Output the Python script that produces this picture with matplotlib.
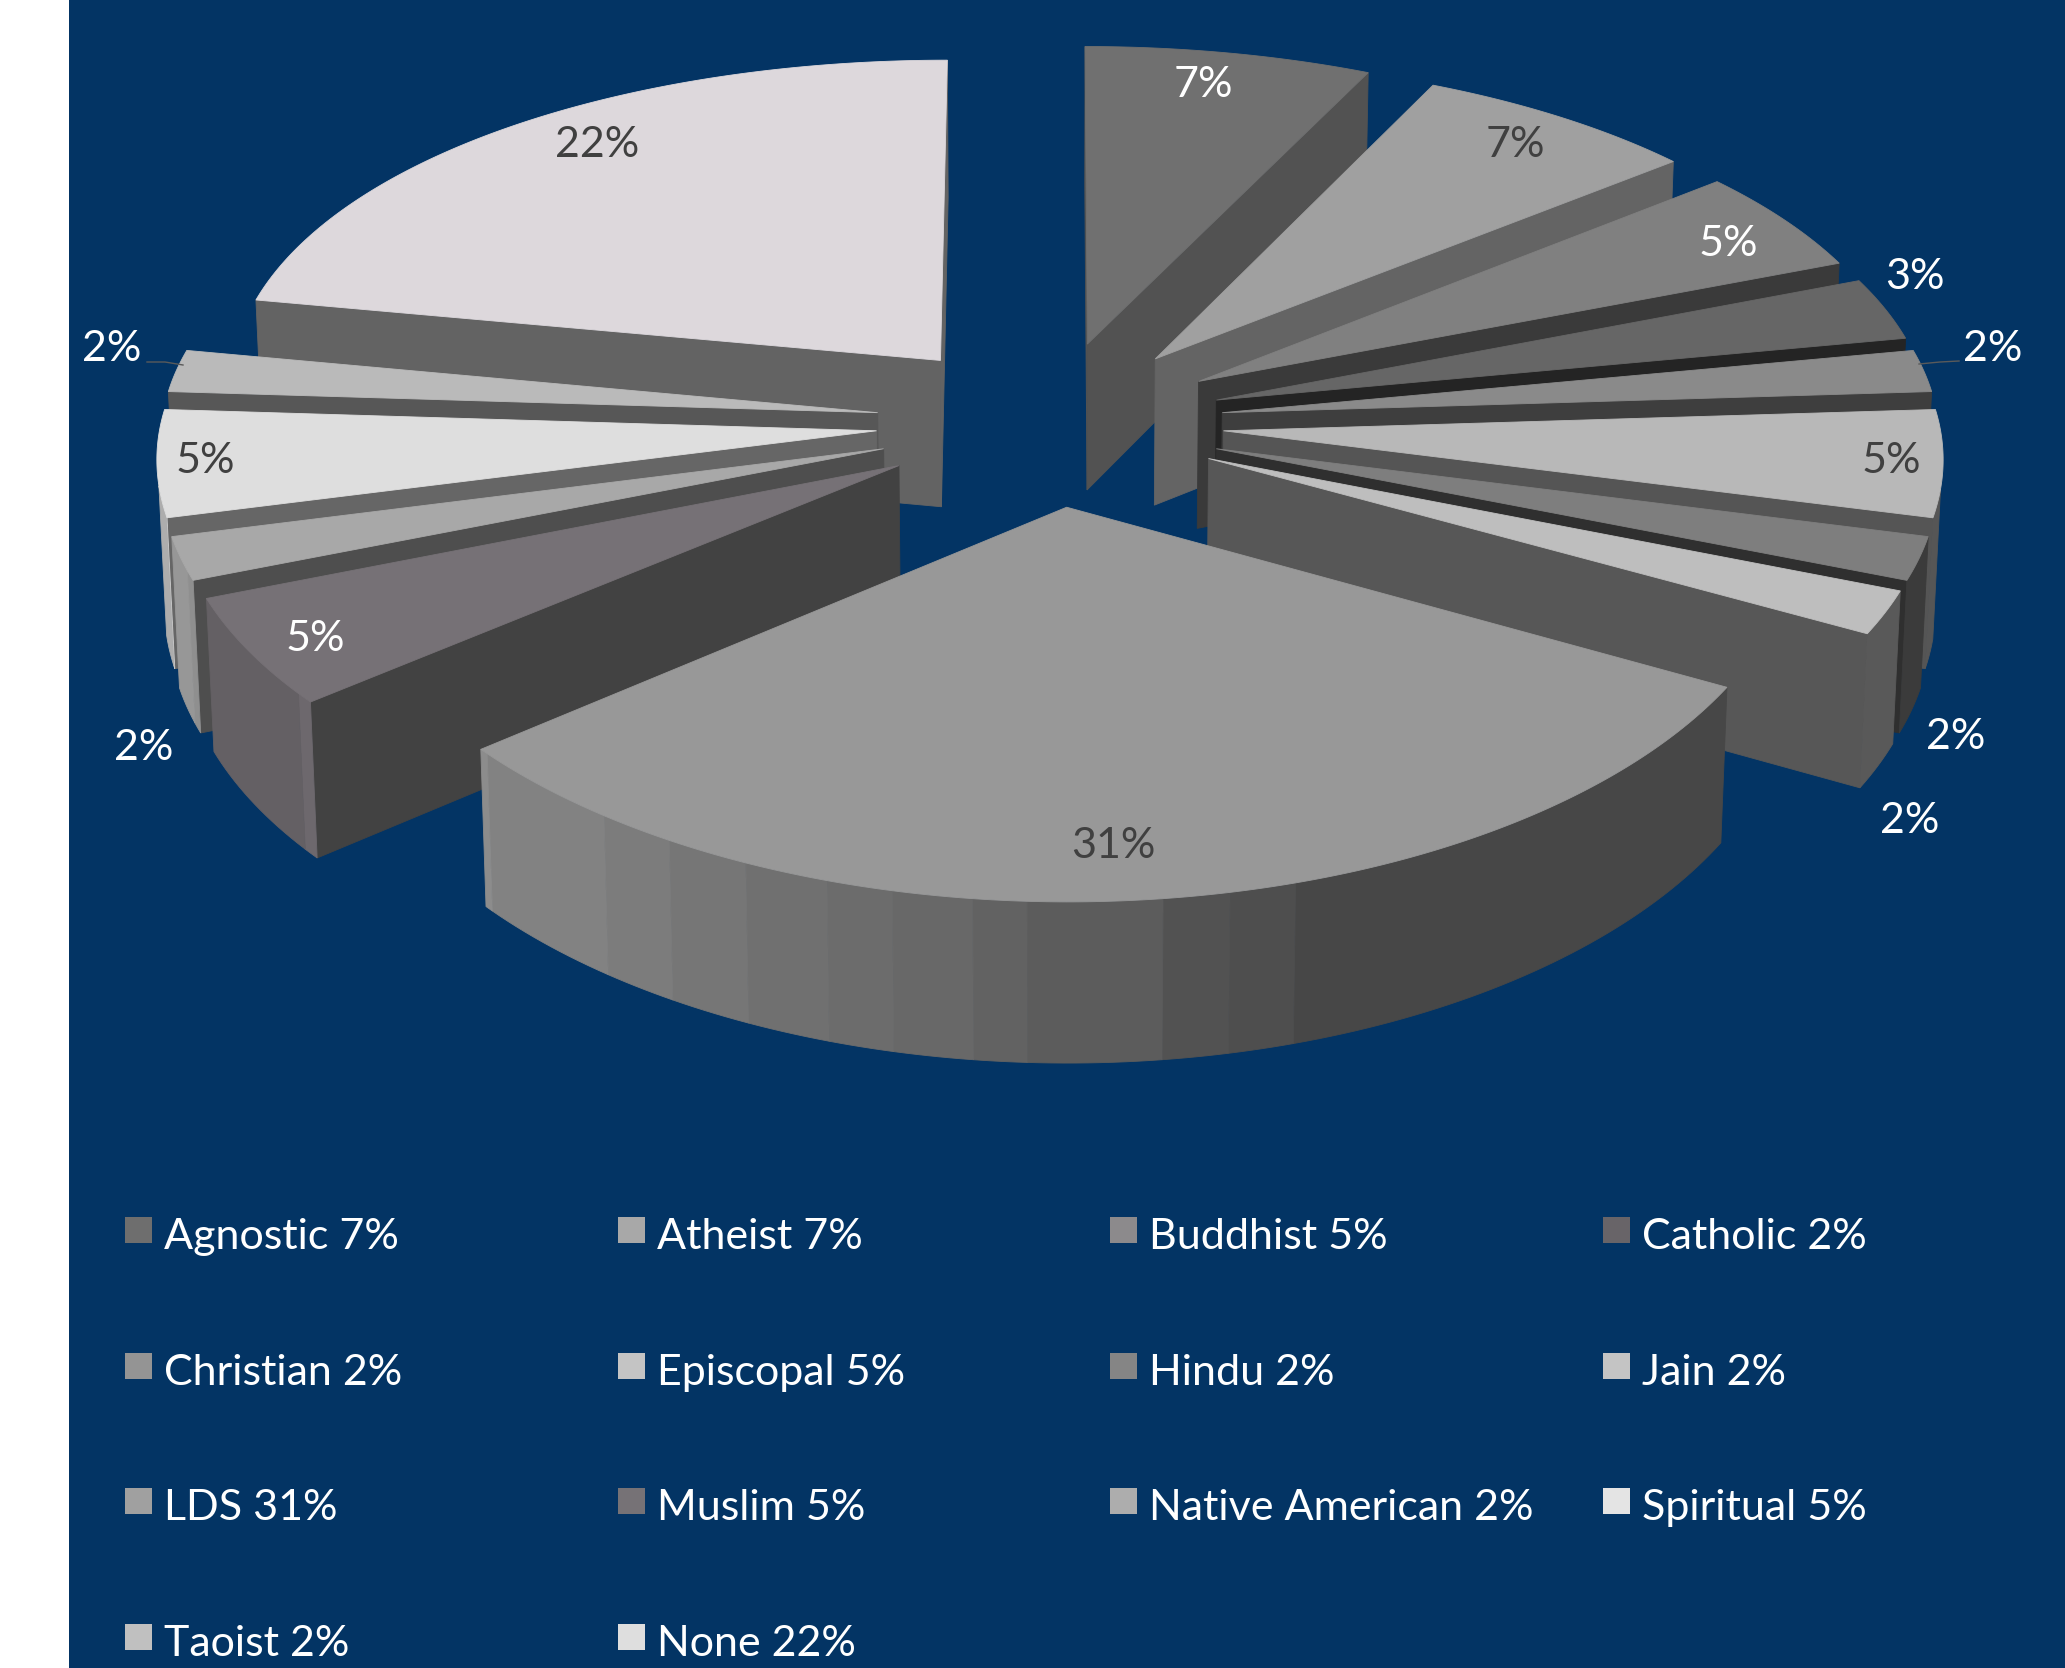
import numpy as np
import matplotlib
matplotlib.use('Agg')

import matplotlib.pyplot as plt
from matplotlib.patches import Polygon, Rectangle

plt.rcParams['font.family'] = ['Lato', 'DejaVu Sans']

categories = ['Agnostic', 'Atheist', 'Buddhist', 'Catholic', 'Christian', 'Episcopal', 'Hindu',
              'Jain', 'LDS', 'Muslim', 'Native American', 'Spiritual', 'Taoist', 'None']
values = [7, 7, 5, 3, 2, 5, 2, 2, 31, 5, 2, 5, 2, 22]
legend_values = [7, 7, 5, 2, 2, 5, 2, 2, 31, 5, 2, 5, 2, 22]

top_colors = ['#707070', '#a0a0a0', '#808080', '#666666', '#8a8a8a', '#b8b8b8', '#7e7e7e',
              '#bebebe', '#989898', '#767176', '#a8a8a8', '#dedede', '#bababa', '#ddd8dc']
side_colors = ['#525252', '#646464', '#3a3a3a', '#242424', '#3e3e3e', '#555555', '#2f2f2f',
               '#575757', '#484848', '#424242', '#4e4e4e', '#666666', '#575757', '#636363']
legend_colors = ['#6e6e6e', '#a8a8a8', '#8c8a8c', '#686468', '#949494', '#c4c4c4', '#858585',
                 '#c4c4c4', '#a0a0a0', '#767276', '#adadad', '#e4e4e4', '#c0c0c0', '#dedede']
label_colors = ['white', '#404040', 'white', 'white', 'white', '#404040', 'white',
                'white', '#404040', 'white', 'white', '#404040', 'white', '#404040']
label_pos = [(1203, 85), (1515, 145), (1728, 244), (1915, 277), (1993, 349), (1891, 461), (1956, 737),
             (1910, 821), (1113, 846), (315, 639), (144, 748), (205, 461), (112, 349), (597, 145)]

# rim shading: factor on the slice colour, one per facet between these angles
facet_breaks = [0, 163, 168, 173, 183, 187, 193, 198, 204.5, 211, 217, 229.6, 232, 250, 256, 360]
facet_shade = [.47, .51, .54, .605, .645, .685, .71, .737, .776, .816, .855, .92, .85, .9, .78]

BG = '#033464'
CX, CY = 1050, 423
SCALE = 716.0
DIST_Y = 9.26
DIST_X = 13.0
SIN_T, COS_T = 0.475, 0.88
EXPLODE = 0.243
HEIGHT = 0.238


def project(x, y, z):
    run = y * COS_T - z * SIN_T
    up = y * SIN_T + z * COS_T
    return (CX + x * SCALE * DIST_X / (DIST_X + run),
            CY - up * SCALE * DIST_Y / (DIST_Y + run))


def visible(nx, ny, x, y):
    return nx * (0.0 - x) + ny * (-DIST_Y * COS_T - y) > 0


def shade(color, factor):
    rgb = np.array(matplotlib.colors.to_rgb(color)) * factor
    return tuple(np.clip(rgb, 0, 1))


def add_face(ax, pts, color, z):
    ax.add_patch(Polygon(pts, closed=True, facecolor=color, edgecolor=color,
                         linewidth=0.6, zorder=z))


def draw_slice(ax, start, end, top, side, z):
    mid = (start + end) / 2
    ox, oy = EXPLODE * np.sin(mid), EXPLODE * np.cos(mid)

    # radial faces
    for ang, n in ((start, (-np.cos(start), np.sin(start))), (end, (np.cos(end), -np.sin(end)))):
        ex, ey = ox + np.sin(ang), oy + np.cos(ang)
        if visible(n[0], n[1], ox, oy):
            add_face(ax, [project(ox, oy, 0), project(ex, ey, 0),
                          project(ex, ey, -HEIGHT), project(ox, oy, -HEIGHT)], side, z)

    # rim, split into facets
    deg0, deg1 = np.degrees(start), np.degrees(end)
    for i, factor in enumerate(facet_shade):
        a0 = max(deg0, facet_breaks[i])
        a1 = min(deg1, facet_breaks[i + 1])
        if a1 <= a0:
            continue
        th = np.radians(np.linspace(a0, a1, max(3, int(a1 - a0) + 2)))
        keep = [visible(np.sin(t), np.cos(t), ox + np.sin(t), oy + np.cos(t)) for t in th]
        th = th[keep]
        if len(th) < 2:
            continue
        upper = [project(ox + np.sin(t), oy + np.cos(t), 0) for t in th]
        lower = [project(ox + np.sin(t), oy + np.cos(t), -HEIGHT) for t in th[::-1]]
        add_face(ax, upper + lower, shade(top, factor), z + 0.1)

    # top face
    th = np.radians(np.linspace(deg0, deg1, int(deg1 - deg0) * 2 + 3))
    pts = [project(ox, oy, 0)] + [project(ox + np.sin(t), oy + np.cos(t), 0) for t in th]
    add_face(ax, pts, top, z + 0.2)


fig = plt.figure(figsize=(20.65, 16.68), dpi=100, facecolor='white')
ax = fig.add_axes([0, 0, 1, 1])
ax.set_xlim(0, 2065)
ax.set_ylim(1668, 0)
ax.axis('off')
ax.add_patch(Rectangle((69, 0), 1996, 1668, facecolor=BG, edgecolor='none', zorder=0))

edges = np.cumsum([0] + values) / sum(values) * 2 * np.pi
mids = (edges[:-1] + edges[1:]) / 2

# back slices first so the front ones cover them
order = np.argsort(-np.cos(mids))
for rank, i in enumerate(order):
    draw_slice(ax, edges[i], edges[i + 1], top_colors[i], side_colors[i], 1 + rank)

for i, (px, py) in enumerate(label_pos):
    ax.text(px, py, f'{values[i]}%', color=label_colors[i], fontsize=31,
            ha='center', va='center', zorder=50)

ax.plot([1919, 1940, 1959], [364, 362, 361], color='#5a5a5a', lw=1, zorder=49)
ax.plot([147, 165, 183], [362, 362, 365], color='#5a5a5a', lw=1, zorder=49)

# legend, four columns
col_x = [125, 618, 1110, 1603]
row_y = [1230, 1366, 1501, 1637]
for i, name in enumerate(categories):
    x = col_x[i % 4]
    y = row_y[i // 4]
    ax.add_patch(Rectangle((x, y - 13), 27, 26, facecolor=legend_colors[i], edgecolor='none', zorder=40))
    ax.text(x + 39, y + 7, f'{name} {legend_values[i]}%', color='white', fontsize=31,
            ha='left', va='center', zorder=50)

fig.savefig('out.png', dpi=100, facecolor='white')
plt.close(fig)
